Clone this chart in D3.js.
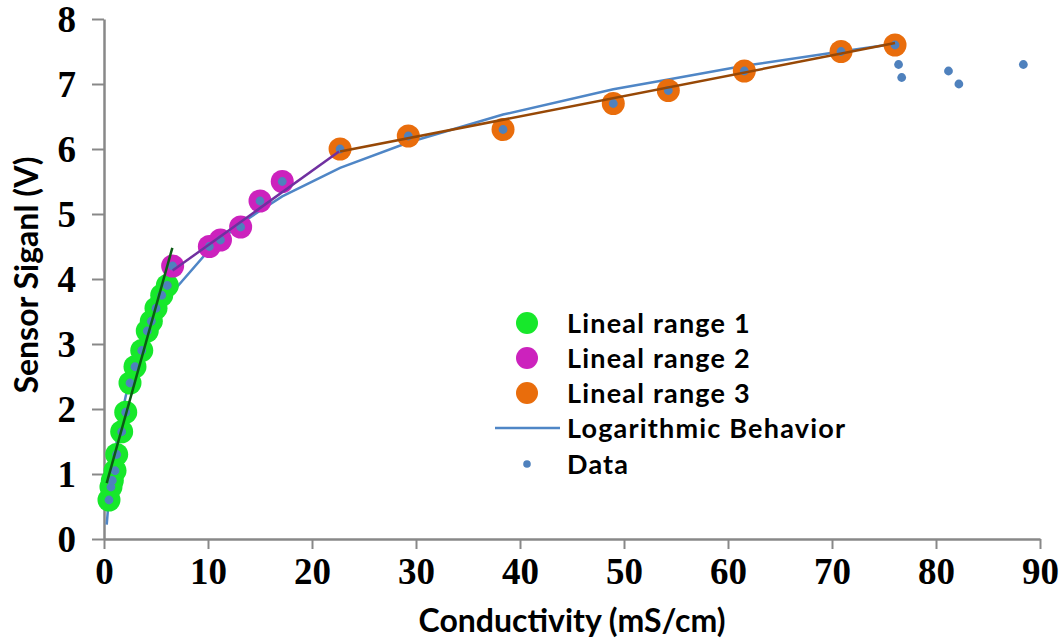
<!DOCTYPE html>
<html>
<head>
<meta charset="utf-8">
<script src="https://cdn.jsdelivr.net/npm/d3@7"></script>
<style>
  body { margin: 0; background: #fff; }
  svg { display: block; }
</style>
</head>
<body>
<svg id="chart" width="1064" height="639"></svg>
<script>
// Lineal range 1 (green)
const range1X = [0.48, 0.67, 0.8, 1.06, 1.22, 1.7, 2.09, 2.5, 2.98, 3.63, 4.16, 4.55, 5.0, 5.55, 6.09];
const range1Y = [0.6, 0.8, 0.9, 1.05, 1.3, 1.65, 1.95, 2.4, 2.65, 2.9, 3.2, 3.35, 3.55, 3.75, 3.9];
// Lineal range 2 (magenta)
const range2X = [6.6, 10.13, 11.2, 13.14, 15.0, 17.14];
const range2Y = [4.2, 4.5, 4.6, 4.8, 5.2, 5.5];
// Lineal range 3 (orange)
const range3X = [22.7, 29.26, 38.37, 48.97, 54.26, 61.57, 70.87, 76.06];
const range3Y = [6.0, 6.2, 6.3, 6.7, 6.9, 7.2, 7.5, 7.6];
// points past the last range
const extraX = [76.4, 76.7, 81.2, 82.2, 88.4];
const extraY = [7.3, 7.1, 7.2, 7.0, 7.3];

// logarithmic behaviour curve
const logX = [0.26, 0.48, 0.8, 1.22, 1.7, 2.09, 2.5, 3.0, 3.63, 4.16, 5.0, 6.09, 6.6, 10.13, 11.2, 13.14, 15.0, 17.14, 22.7, 29.26, 38.37, 48.97, 54.26, 61.57, 70.87, 76.06];
const logY = [0.22, 0.65, 1.05, 1.5, 1.9, 2.2, 2.45, 2.7, 2.98, 3.17, 3.43, 3.7, 3.8, 4.45, 4.6, 4.85, 5.05, 5.27, 5.71, 6.1, 6.53, 6.92, 7.07, 7.28, 7.5, 7.62];

// linear fits of each range (end points)
const fit1X = [0.26, 6.57], fit1Y = [0.86, 4.48];
const fit2X = [6.6, 22.6],  fit2Y = [4.13, 5.96];
const fit3X = [22.7, 76.06], fit3Y = [5.96, 7.63];

const xTicks = [0, 10, 20, 30, 40, 50, 60, 70, 80, 90];
const yTicks = [0, 1, 2, 3, 4, 5, 6, 7, 8];

const legendLabels = ["Lineal range 1", "Lineal range 2", "Lineal range 3", "Logarithmic Behavior", "Data"];

const zip = (xs, ys) => xs.map((x, i) => [x, ys[i]]);
const range1 = zip(range1X, range1Y);
const range2 = zip(range2X, range2Y);
const range3 = zip(range3X, range3Y);
const allData = range1.concat(range2, range3, zip(extraX, extraY));

const svg = d3.select("#chart");
const axisColor = "#888888";
const titleFont = "Lato, 'Open Sans', sans-serif";
const tickFont = "'Liberation Serif', 'Times New Roman', serif";

const x = d3.scaleLinear().domain([0, 90]).range([104, 1040]);
const y = d3.scaleLinear().domain([0, 8]).range([539, 19]);

const line = d3.line().x(d => x(d[0])).y(d => y(d[1]));

// axes
const gx = svg.append("g")
    .attr("transform", `translate(0,${y(0)})`)
    .call(d3.axisBottom(x).tickValues(xTicks).tickSize(10).tickSizeOuter(0).tickPadding(10));
const gy = svg.append("g")
    .attr("transform", `translate(${x(0)},0)`)
    .call(d3.axisLeft(y).tickValues(yTicks).tickSize(12).tickSizeOuter(0).tickPadding(16));

[gx, gy].forEach(g => {
    g.select(".domain").attr("stroke", axisColor).attr("stroke-width", 2.5);
    g.selectAll(".tick line").attr("stroke", axisColor).attr("stroke-width", 2);
    g.selectAll(".tick text")
        .attr("fill", "#000")
        .style("font-family", tickFont)
        .style("font-weight", "bold")
        .style("font-size", "37px");
});
gy.selectAll(".tick text").attr("dy", "0.34em");
gx.selectAll(".tick text").attr("dy", "0.68em");

// axis titles
svg.append("text")
    .attr("x", 572).attr("y", 632)
    .attr("text-anchor", "middle")
    .style("font-family", titleFont).style("font-weight", "bold").style("font-size", "32px")
    .text("Conductivity (mS/cm)");

svg.append("text")
    .attr("transform", "translate(38,275) rotate(-90)")
    .attr("text-anchor", "middle")
    .style("font-family", titleFont).style("font-weight", "bold").style("font-size", "32px")
    .text("Sensor Siganl (V)");

// logarithmic curve
svg.append("path")
    .datum(zip(logX, logY))
    .attr("fill", "none")
    .attr("stroke", "#4f86c6")
    .attr("stroke-width", 2.5)
    .attr("d", line);

// range markers
const ranges = [
    { pts: range1, color: "#17e82b" },
    { pts: range2, color: "#cc22bd" },
    { pts: range3, color: "#e96d0c" }
];
ranges.forEach(r => {
    svg.append("g").selectAll("circle")
        .data(r.pts)
        .join("circle")
        .attr("cx", d => x(d[0]))
        .attr("cy", d => y(d[1]))
        .attr("r", 11.5)
        .attr("fill", r.color);
});

// raw data dots
svg.append("g").selectAll("circle")
    .data(allData)
    .join("circle")
    .attr("cx", d => x(d[0]))
    .attr("cy", d => y(d[1]))
    .attr("r", 4.4)
    .attr("fill", "#4f81bd");

// linear fits
const fits = [
    { pts: zip(fit1X, fit1Y), color: "#0b5b14" },
    { pts: zip(fit2X, fit2Y), color: "#7030a0" },
    { pts: zip(fit3X, fit3Y), color: "#974806" }
];
fits.forEach(f => {
    svg.append("path")
        .datum(f.pts)
        .attr("fill", "none")
        .attr("stroke", f.color)
        .attr("stroke-width", 2.5)
        .attr("d", line);
});

// legend
const legend = svg.append("g");
const rowY = [323, 358, 393, 428, 464];
legendLabels.forEach((label, i) => {
    const cy = rowY[i];
    if (i < 3) {
        legend.append("circle").attr("cx", 527).attr("cy", cy).attr("r", 11).attr("fill", ranges[i].color);
    } else if (i === 3) {
        legend.append("line").attr("x1", 495).attr("x2", 560).attr("y1", cy).attr("y2", cy)
            .attr("stroke", "#4f86c6").attr("stroke-width", 2.5);
    } else {
        legend.append("circle").attr("cx", 527).attr("cy", cy).attr("r", 3.8).attr("fill", "#4f81bd");
    }
    legend.append("text")
        .attr("x", 567).attr("y", cy + 10)
        .style("font-family", titleFont).style("font-weight", "bold").style("font-size", "27px")
        .style("letter-spacing", "1.2px")
        .text(label);
});
</script>
</body>
</html>
